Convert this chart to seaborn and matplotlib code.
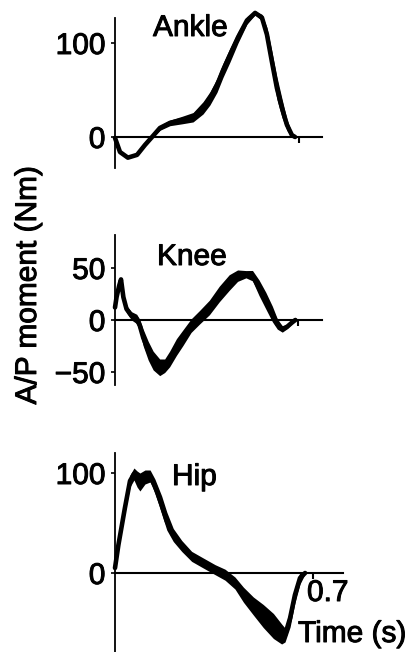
import numpy as np
import pandas as pd
import matplotlib
matplotlib.use("Agg")
import matplotlib.pyplot as plt
import matplotlib.patheffects as pe
import seaborn as sns

# Antero-posterior joint moments over one stance phase (mean and spread)
ankle_t = [0, .019, .049, .084, .114, .141, .171, .209, .255, .297, .335, .361, .388,
           .411, .437, .468, .502, .533, .559, .578, .597, .616, .635, .654, .673, .685]
ankle_m = [-1, -16, -22, -19, -8.5, 0, 9.6, 15, 18, 21, 31, 41, 55,
           71, 87, 106, 124, 132, 127, 109, 80, 52, 31, 13, 2, 0]
ankle_sd = [0.3, 0.5, 0.8, 0.8, 0.8, 1, 2.5, 3, 4, 5, 6.5, 7, 7.5,
            7.5, 7.5, 6, 4, 2, 3.5, 7.5, 11, 12, 10, 6, 2.5, 0.3]

knee_t = [0, .006, .016, .023, .032, .044, .063, .083, .095, .108, .127, .146, .171,
          .19, .209, .235, .26, .291, .323, .361, .399, .437, .469, .501, .526, .551,
          .577, .602, .621, .640, .659, .678, .69]
knee_m = [12, 22, 33, 39, 22, 10.6, 4, 1, -5.5, -17, -29.5, -39, -45.5,
          -44, -37.5, -26, -17, -5.5, 2.5, 12, 25, 36, 42.6, 44, 42.6, 31,
          18.6, 5.8, -3.8, -8.7, -6.4, -2.3, 0]
knee_sd = [1, 1.5, 2, 2, 3, 3.5, 4, 4.5, 6, 8, 9, 9, 8,
           6.5, 7.5, 8, 7.5, 6.5, 6.5, 7, 7.5, 7.5, 5.5, 3.5, 5, 7.5,
           8, 7.5, 5, 3, 2, 1, 0.5]

hip_t = [0, .012, .035, .053, .067, .078, .088, .106, .124, .141, .165, .183, .206,
         .236, .271, .312, .354, .389, .424, .454, .489, .524, .56, .589, .601, .619,
         .636, .654, .672]
hip_m = [5, 28, 65, 92, 99, 94, 91, 96, 97, 87, 68, 52, 38,
         27, 16.6, 10, 3.3, -1.7, -10, -21.7, -33, -43, -53, -61, -62, -45,
         -22, -5, 0]
hip_sd = [0.5, 2.5, 5, 6, 6, 8, 9, 7, 6, 7, 9, 9, 6.5,
          5.5, 5, 5, 5, 5.5, 6, 7.5, 9, 11.5, 12.5, 10, 7, 9,
          8, 6, 1]

# Panel layout: (name, t, mean, sd, y ticks, y limits, x limit, box in pixels, title position)
W, H = 418, 652
panels = [
    ("Ankle", ankle_t, ankle_m, ankle_sd, [0, 100], (-33, 126.6), 0.7875,
     (115, 18, 322, 168), (153, 36)),
    ("Knee", knee_t, knee_m, knee_sd, [-50, 0, 50], (-62.5, 81.7), 0.792,
     (115, 235, 322, 385), (157, 265)),
    ("Hip", hip_t, hip_m, hip_sd, [0, 100], (-79, 120), 0.806,
     (115, 453, 343, 652), (172, 485)),
]

sns.set_theme(style="white")
plt.rcParams["font.family"] = ["Liberation Sans", "DejaVu Sans"]
plt.rcParams["text.color"] = "black"
FS = 21.5
heavy = [pe.withStroke(linewidth=0.7, foreground="black")]

fig = plt.figure(figsize=(W / 100, H / 100), dpi=100)

for name, t, m, sd, yt, ylim, xmax, (x0, y0, x1, y1), (tx, ty) in panels:
    ax = fig.add_axes([x0 / W, 1 - y1 / H, (x1 - x0) / W, (y1 - y0) / H])
    df = pd.DataFrame({"t": t, "m": m, "sd": sd})
    ax.fill_between(df["t"], df["m"] - df["sd"], df["m"] + df["sd"],
                    color="black", linewidth=0, clip_on=False)
    sns.lineplot(data=df, x="t", y="m", ax=ax, color="black", linewidth=3.3,
                 solid_joinstyle="round", solid_capstyle="round", clip_on=False)
    ax.set_xlim(0, xmax)
    ax.set_ylim(*ylim)
    ax.set_xlabel("")
    ax.set_ylabel("")
    for s in ("top", "right"):
        ax.spines[s].set_visible(False)
    ax.spines["bottom"].set_position(("data", 0))
    ax.spines["left"].set_linewidth(1.3)
    ax.spines["bottom"].set_linewidth(1.5)
    ax.spines["left"].set_color("black")
    ax.spines["bottom"].set_color("black")
    ax.set_yticks(yt)
    ax.set_yticklabels([str(v).replace("-", "\u2212") for v in yt], fontsize=FS,
                       color="black")
    for lab in ax.get_yticklabels():
        lab.set_path_effects(heavy)
    ax.tick_params(axis="y", direction="out", length=3, width=1.2, pad=4,
                   left=True, colors="black")
    ax.set_xticks([0.7])
    ax.set_xticklabels([])
    ax.tick_params(axis="x", direction="out", length=4, width=1.5, bottom=True,
                   colors="black")
    ax.patch.set_alpha(0)
    fig.text(tx / W, 1 - ty / H, name, fontsize=FS, ha="left", va="baseline",
             color="black", path_effects=heavy)

fig.text(307 / W, 1 - 579 / H, "0.7", fontsize=FS, ha="left", va="top",
         color="black", path_effects=heavy)
fig.text(298 / W, 1 - 642 / H, "Time (s)", fontsize=FS, ha="left", va="baseline",
         color="black", path_effects=heavy)
fig.text(28 / W, 1 - 285 / H, "A/P moment (Nm)", fontsize=FS, rotation=90,
         ha="center", va="center", color="black", path_effects=heavy)

fig.savefig("out.png", dpi=100)
